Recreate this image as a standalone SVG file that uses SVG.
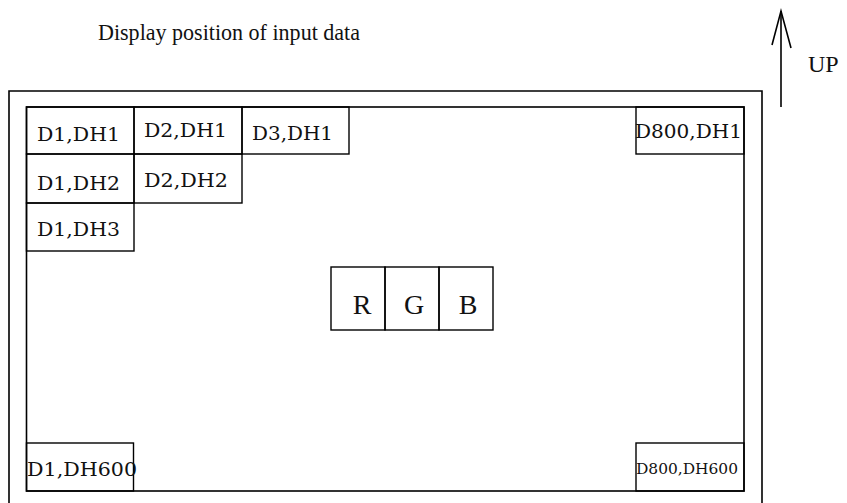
<svg xmlns="http://www.w3.org/2000/svg" width="847" height="503" viewBox="0 0 847 503">
<style>
.box{fill:none;stroke:#000;stroke-width:1.4}
.frame{fill:none;stroke:#000;stroke-width:1.6}
.cell{font-family:"DejaVu Serif","Liberation Serif",serif;font-size:19px;fill:#111}
.small{font-family:"DejaVu Serif","Liberation Serif",serif;font-size:15px;fill:#111}
.big{font-family:"Liberation Serif",serif;font-size:28px;fill:#111;text-anchor:middle}
.title{font-family:"Liberation Serif",serif;font-size:24px;fill:#111}
</style>
<rect width="847" height="503" fill="#fff"/>
<text id="title" class="title" x="98" y="40" textLength="262" lengthAdjust="spacingAndGlyphs">Display position of input data</text>
<g id="connectors">
<line x1="781" y1="107" x2="781" y2="11" stroke="#000" stroke-width="1.6"/>
<polyline points="772,45 781,11 791,48" fill="none" stroke="#000" stroke-width="1.6"/>
</g>
<text id="up" class="title" x="808" y="72" font-size="27">UP</text>
<path id="outer" class="frame" d="M9,503 V91 H762 V503"/>
<g id="screen"><rect class="frame" x="26.5" y="107" width="717.5" height="384"/></g>
<g id="d1dh1"><rect class="box" x="26.5" y="107" width="107.5" height="47"/><text class="cell" x="37" y="141" textLength="83" lengthAdjust="spacingAndGlyphs">D1,DH1</text></g>
<g id="d2dh1"><rect class="box" x="134" y="107" width="108" height="47"/><text class="cell" x="144" y="137" textLength="83" lengthAdjust="spacingAndGlyphs">D2,DH1</text></g>
<g id="d3dh1"><rect class="box" x="242" y="107" width="107" height="47"/><text class="cell" x="252" y="140" textLength="81" lengthAdjust="spacingAndGlyphs">D3,DH1</text></g>
<g id="d1dh2"><rect class="box" x="26.5" y="154" width="107.5" height="49"/><text class="cell" x="37" y="190" textLength="83" lengthAdjust="spacingAndGlyphs">D1,DH2</text></g>
<g id="d2dh2"><rect class="box" x="134" y="154" width="108" height="49"/><text class="cell" x="144" y="187" textLength="84" lengthAdjust="spacingAndGlyphs">D2,DH2</text></g>
<g id="d1dh3"><rect class="box" x="26.5" y="203" width="107.5" height="48"/><text class="cell" x="37" y="236" textLength="83" lengthAdjust="spacingAndGlyphs">D1,DH3</text></g>
<g id="d800dh1"><rect class="box" x="636" y="107" width="108" height="47"/><text class="cell" x="635" y="138" textLength="107" lengthAdjust="spacingAndGlyphs">D800,DH1</text></g>
<g id="d1dh600"><rect class="box" x="26.5" y="443" width="107" height="48"/><text class="cell" x="27" y="476" textLength="110" lengthAdjust="spacingAndGlyphs">D1,DH600</text></g>
<g id="d800dh600"><rect class="box" x="636" y="443" width="108" height="48"/><text class="small" x="636" y="474" textLength="102" lengthAdjust="spacingAndGlyphs">D800,DH600</text></g>
<g id="r"><rect class="box" x="331" y="267" width="54" height="63"/><text class="big" x="362" y="314">R</text></g>
<g id="g"><rect class="box" x="385" y="267" width="54" height="63"/><text class="big" x="414" y="314">G</text></g>
<g id="b"><rect class="box" x="439" y="267" width="54" height="63"/><text class="big" x="468" y="314">B</text></g>
</svg>
